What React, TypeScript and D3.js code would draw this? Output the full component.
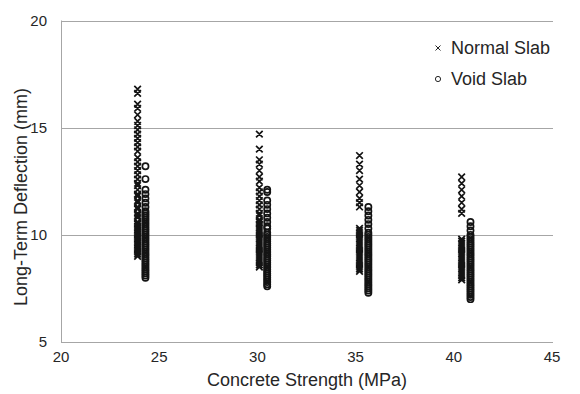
import * as d3 from 'd3';

// concrete strength (MPa) at which each column is plotted
const normalStrength = [23.9, 30.1, 35.2, 40.4];
const voidStrength = [24.3, 30.5, 35.65, 40.85];

// long-term deflection (mm), one column per strength
const normalDeflection = [
    [16.8, 16.6, 16.1, 15.9, 15.6, 15.3, 15.1, 14.9, 14.7, 14.5, 14.3, 14.1, 13.9, 13.6, 13.4, 13.2, 13.0, 12.8, 12.6,
        12.4, 12.3, 12.1, 11.9, 11.8, 11.6, 11.5, 11.3, 11.2, 11.0, 10.9, 10.8, 10.6, 10.5, 10.4, 10.3, 10.2, 10.1,
        10.0, 9.9, 9.8, 9.7, 9.6, 9.5, 9.4, 9.3, 9.2, 9.1, 9.0],
    [14.7, 14.0, 13.5, 13.3, 13.0, 12.7, 12.5, 12.2, 12.0, 11.8, 11.6, 11.4, 11.2, 11.0, 10.9, 10.7, 10.6, 10.5,
        10.4, 10.3, 10.2, 10.1, 10.0, 9.9, 9.8, 9.7, 9.6, 9.5, 9.4, 9.3, 9.2, 9.1, 9.0, 8.9, 8.8, 8.7, 8.6, 8.5],
    [13.7, 13.3, 13.0, 12.6, 12.3, 12.0, 11.7, 11.5, 11.3, 10.3, 10.2, 10.1, 10.0, 9.9, 9.8, 9.7, 9.6, 9.5, 9.4,
        9.3, 9.2, 9.1, 9.0, 8.9, 8.8, 8.7, 8.6, 8.5, 8.4, 8.3],
    [12.7, 12.4, 12.1, 11.8, 11.5, 11.2, 11.0, 9.8, 9.7, 9.6, 9.5, 9.4, 9.3, 9.2, 9.1, 9.0, 8.9, 8.8, 8.7, 8.6,
        8.5, 8.4, 8.3, 8.2, 8.1, 8.0, 7.9],
];
const voidDeflection = [
    [13.2, 12.6, 12.1, 11.9, 11.7, 11.5, 11.3, 11.1, 11.0, 10.9, 10.8, 10.7, 10.6, 10.5, 10.4, 10.3, 10.2, 10.1,
        10.0, 9.9, 9.8, 9.7, 9.6, 9.5, 9.4, 9.3, 9.2, 9.1, 9.0, 8.9, 8.8, 8.7, 8.6, 8.5, 8.4, 8.3, 8.2, 8.1, 8.0],
    [12.1, 12.0, 11.6, 11.4, 11.2, 11.0, 10.8, 10.6, 10.4, 10.3, 10.1, 10.0, 9.9, 9.8, 9.7, 9.6, 9.5, 9.4, 9.3,
        9.2, 9.1, 9.0, 8.9, 8.8, 8.7, 8.6, 8.5, 8.4, 8.3, 8.2, 8.1, 8.0, 7.9, 7.8, 7.7, 7.6],
    [11.3, 11.1, 10.9, 10.7, 10.5, 10.3, 10.1, 10.0, 9.9, 9.8, 9.7, 9.6, 9.5, 9.4, 9.3, 9.2, 9.1, 9.0, 8.9, 8.8,
        8.7, 8.6, 8.5, 8.4, 8.3, 8.2, 8.1, 8.0, 7.9, 7.8, 7.7, 7.6, 7.5, 7.4, 7.3],
    [10.6, 10.4, 10.2, 10.0, 9.9, 9.8, 9.7, 9.6, 9.5, 9.4, 9.3, 9.2, 9.1, 9.0, 8.9, 8.8, 8.7, 8.6, 8.5, 8.4, 8.3,
        8.2, 8.1, 8.0, 7.9, 7.8, 7.7, 7.6, 7.5, 7.4, 7.3, 7.2, 7.1, 7.0],
];

const xTicks = [20, 25, 30, 35, 40, 45];
const yTicks = [5, 10, 15, 20];
const seriesNames = ['Normal Slab', 'Void Slab'];

const W = 580;
const H = 394;
const font = '"Liberation Sans", Arial, sans-serif';
const ink = '#262626';
const dot = '#141414';
const grid = '#a6a6a6';

export default function App() {
    const x = d3.scaleLinear().domain([20, 45]).range([61, 552]);
    const y = d3.scaleLinear().domain([5, 20]).range([342, 20.5]);

    const normalPts = normalStrength.flatMap((s, i) => normalDeflection[i].map(v => [x(s), y(v)]));
    const voidPts = voidStrength.flatMap((s, i) => voidDeflection[i].map(v => [x(s), y(v)]));

    const cross = (cx: number, cy: number, r: number) =>
        `M${cx - r},${cy - r}L${cx + r},${cy + r}M${cx - r},${cy + r}L${cx + r},${cy - r}`;

    return (
        <div style={{ position: 'absolute', left: 0, top: 0 }}>
            <svg width={W} height={H} style={{ display: 'block', background: '#fff' }}>
                {/* gridlines */}
                {yTicks.filter(t => t > 5).map(t => (
                    <line key={t} x1={x(20)} x2={x(45) + 1} y1={Math.round(y(t)) + 0.5} y2={Math.round(y(t)) + 0.5}
                        stroke={grid} strokeWidth={1} />
                ))}
                {/* axes */}
                <line x1={x(20)} x2={x(45) + 1} y1={Math.round(y(5)) + 0.5} y2={Math.round(y(5)) + 0.5} stroke={grid} />
                <line x1={Math.round(x(20)) + 0.5} x2={Math.round(x(20)) + 0.5} y1={y(20)} y2={y(5)} stroke={grid} />

                {/* tick labels */}
                {yTicks.map(t => (
                    <text key={t} x={47} y={y(t)} dy="0.35em" textAnchor="end" fontFamily={font} fontSize={15}
                        fill={ink}>{t}</text>
                ))}
                {xTicks.map(t => (
                    <text key={t} x={x(t)} y={362} textAnchor="middle" fontFamily={font} fontSize={15}
                        fill={ink}>{t}</text>
                ))}

                {/* points */}
                <path d={normalPts.map(([cx, cy]) => cross(cx, cy, 3.3)).join('')} stroke={dot} strokeWidth={1.7}
                    fill="none" />
                {voidPts.map(([cx, cy], i) => (
                    <circle key={i} cx={cx} cy={cy} r={3.1} stroke={dot} strokeWidth={1.7} fill="none" />
                ))}

                {/* legend */}
                <path d={cross(438, 48, 2.5)} stroke={ink} strokeWidth={1} fill="none" />
                <text x={451} y={54} fontFamily={font} fontSize={18} fill={ink}>{seriesNames[0]}</text>
                <circle cx={438} cy={79} r={2.6} stroke={ink} strokeWidth={1} fill="none" />
                <text x={451} y={85} fontFamily={font} fontSize={18} fill={ink}>{seriesNames[1]}</text>

                {/* axis titles */}
                <text x={307} y={386} textAnchor="middle" fontFamily={font} fontSize={18} fill={ink}>
                    Concrete Strength (MPa)
                </text>
                <text transform="translate(27,197) rotate(-90)" textAnchor="middle" fontFamily={font} fontSize={18}
                    fill={ink}>Long-Term Deflection (mm)</text>
            </svg>
        </div>
    );
}
